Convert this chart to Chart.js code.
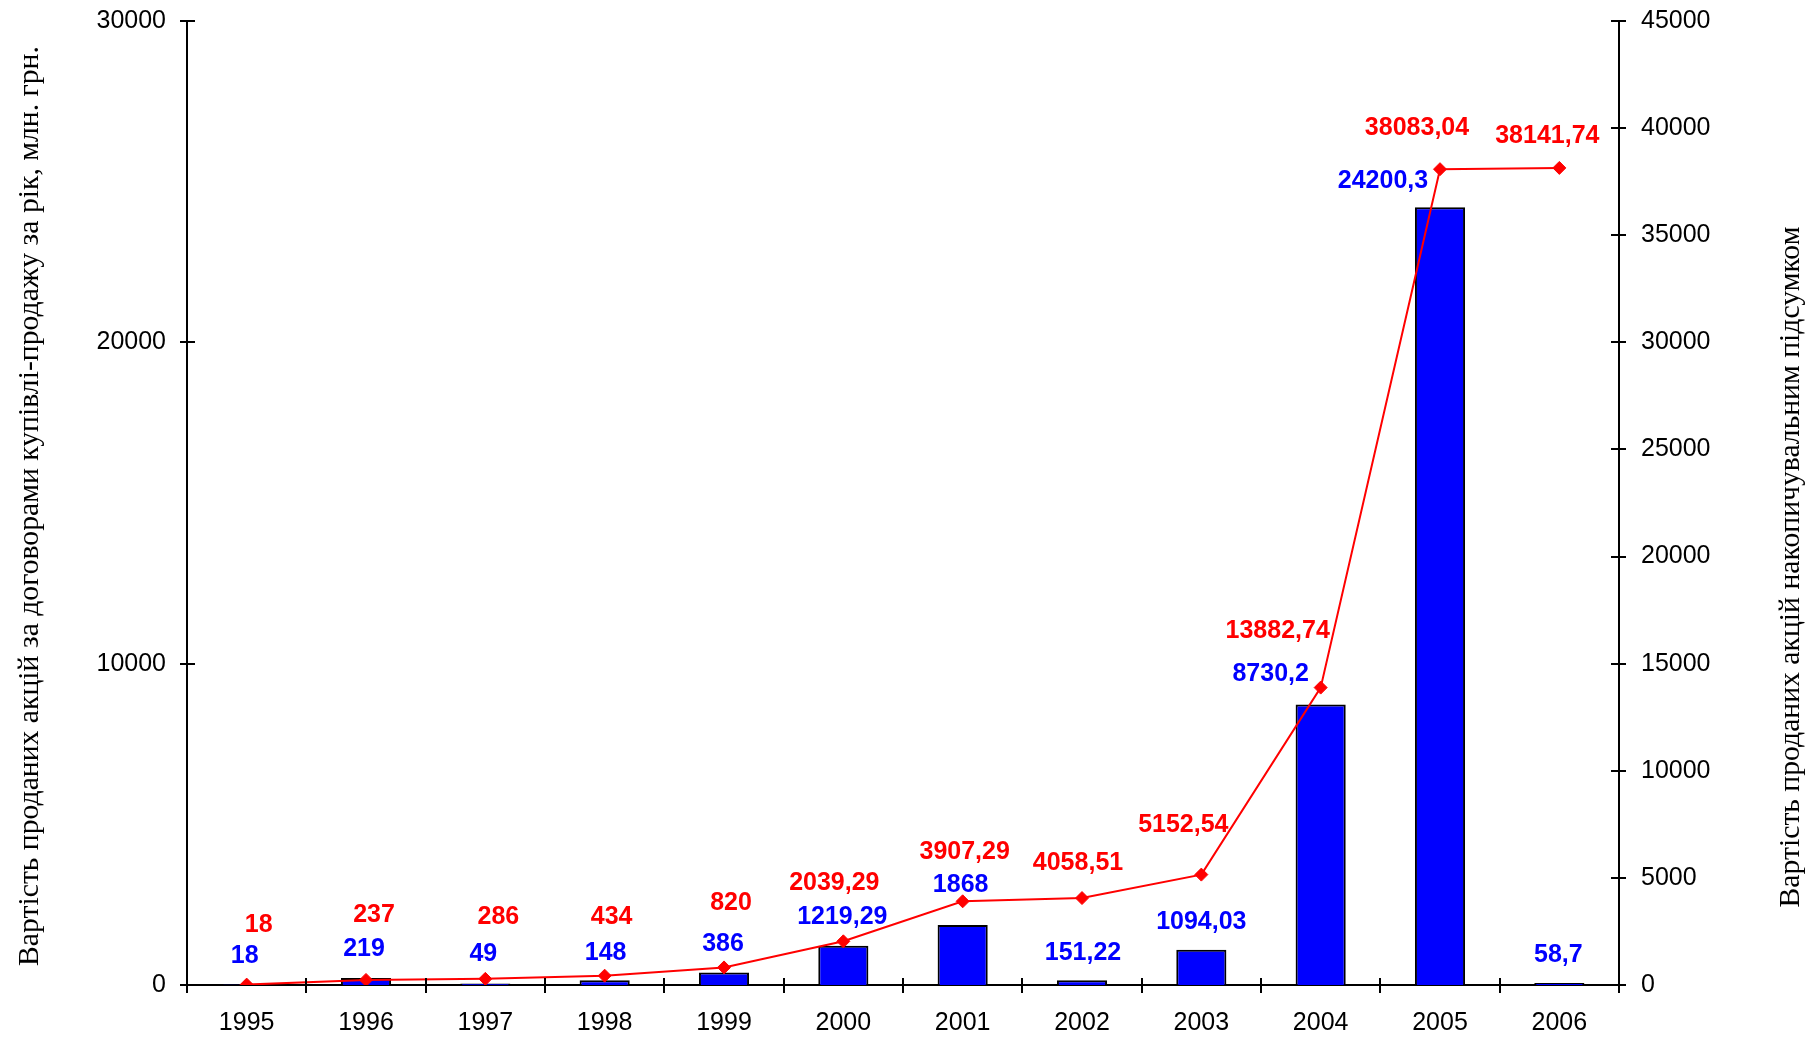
<!DOCTYPE html>
<html><head><meta charset="utf-8">
<script src="https://cdn.jsdelivr.net/npm/chart.js@4"></script>
<style>html,body{margin:0;padding:0;background:#fff;overflow:hidden}</style>
</head><body>
<canvas id="c" width="1819" height="1037"></canvas>
<script>
const years = ['1995','1996','1997','1998','1999','2000','2001','2002','2003','2004','2005','2006'];
const annualValues = [18, 219, 49, 148, 386, 1219.29, 1868, 151.22, 1094.03, 8730.2, 24200.3, 58.7];
const cumulativeValues = [18, 237, 286, 434, 820, 2039.29, 3907.29, 4058.51, 5152.54, 13882.74, 38083.04, 38141.74];
const leftTicks = [0, 10000, 20000, 30000];
const rightTicks = [0, 5000, 10000, 15000, 20000, 25000, 30000, 35000, 40000, 45000];
const leftTitle = 'Вартість проданих акцій за договорами купівлі-продажу за рік, млн. грн.';
const rightTitle = 'Вартість проданих акцій накопичувальним підсумком';

// label placement (px offsets from the anchored element)
const barLabelOffsets = [[-2,-28],[-2,-29],[-2,-29],[1,-27],[-1,-28],[-1,-29],[-2,-40],[1,-27],[0,-28],[-50,-30],[-57,-26],[-1,-28]];
const lineLabelOffsets = [[12,-60],[8,-65],[13,-62],[7,-59],[7,-64],[-9,-58],[2,-49],[-4,-35],[-18,-50],[-43,-56],[-23,-41],[-12,-32]];

const fmt = v => String(v).replace('.', ',');

const extras = {
  id: 'extras',
  afterDraw(chart) {
    const ctx = chart.ctx;
    const x = chart.scales.x, y = chart.scales.y, y2 = chart.scales.y2;
    ctx.save();
    ctx.strokeStyle = '#000';
    ctx.lineWidth = 2;
    ctx.beginPath();
    leftTicks.forEach(v => { const p = Math.round(y.getPixelForValue(v)); ctx.moveTo(y.right - 7, p); ctx.lineTo(y.right + 8, p); });
    rightTicks.forEach(v => { const p = Math.round(y2.getPixelForValue(v)); ctx.moveTo(y2.left - 8, p); ctx.lineTo(y2.left + 7, p); });
    const w = (x.right - x.left) / years.length;
    for (let i = 0; i <= years.length; i++) {
      const p = Math.round(x.left + i * w);
      ctx.moveTo(p, x.top - 7); ctx.lineTo(p, x.top + 8);
    }
    ctx.stroke();

    // data labels
    ctx.font = 'bold 25px "Liberation Sans", Arial, sans-serif';
    ctx.textAlign = 'center';
    ctx.textBaseline = 'middle';
    ctx.fillStyle = '#0000FF';
    annualValues.forEach((v, i) => {
      const px = x.getPixelForValue(i) + barLabelOffsets[i][0];
      const py = y.getPixelForValue(v) + barLabelOffsets[i][1];
      ctx.fillText(fmt(v), px, py);
    });
    ctx.fillStyle = '#FF0000';
    cumulativeValues.forEach((v, i) => {
      const px = x.getPixelForValue(i) + lineLabelOffsets[i][0];
      const py = y2.getPixelForValue(v) + lineLabelOffsets[i][1];
      ctx.fillText(fmt(v), px, py);
    });

    // axis titles
    ctx.fillStyle = '#000';
    ctx.font = '29.7px "Liberation Serif", "Times New Roman", serif';
    ctx.textBaseline = 'alphabetic';
    ctx.textAlign = 'center';
    ctx.save();
    ctx.translate(38, 506);
    ctx.rotate(-Math.PI / 2);
    ctx.fillText(leftTitle, 0, 0);
    ctx.restore();
    ctx.save();
    ctx.translate(1799, 567);
    ctx.rotate(-Math.PI / 2);
    ctx.fillText(rightTitle, 0, 0);
    ctx.restore();
    ctx.restore();
  }
};

const tickFont = { family: '"Liberation Sans", Arial, sans-serif', size: 25 };
const noPad = s => { s.paddingTop = 0; s.paddingBottom = 0; s.paddingLeft = 0; s.paddingRight = 0; };

new Chart(document.getElementById('c'), {
  data: {
    labels: years,
    datasets: [
      {
        type: 'line',
        data: cumulativeValues,
        yAxisID: 'y2',
        borderColor: '#FF0000',
        backgroundColor: '#FF0000',
        borderWidth: 2,
        tension: 0,
        pointStyle: 'rectRot',
        pointRadius: 6.5,
        pointBorderWidth: 1,
        pointBorderColor: '#FF0000',
        pointBackgroundColor: '#FF0000',
        order: 1
      },
      {
        type: 'bar',
        data: annualValues,
        yAxisID: 'y',
        backgroundColor: '#0000FF',
        borderColor: '#000000',
        borderWidth: 2,
        barPercentage: 0.42,
        categoryPercentage: 1,
        order: 2
      }
    ]
  },
  options: {
    responsive: false,
    animation: false,
    devicePixelRatio: 1,
    layout: { padding: { top: 21, left: 0, right: 0, bottom: 0 } },
    plugins: { legend: { display: false }, tooltip: { enabled: false } },
    scales: {
      x: {
        type: 'category',
        offset: true,
        grid: { display: false, drawTicks: false },
        border: { display: true, color: '#000', width: 2 },
        ticks: { color: '#000', font: tickFont, padding: 23, maxRotation: 0, autoSkip: false },
        afterFit: s => { s.height = 52; noPad(s); }
      },
      y: {
        position: 'left',
        min: 0, max: 30000,
        grid: { display: false, drawTicks: false },
        border: { display: true, color: '#000', width: 2 },
        ticks: { color: '#000', font: tickFont, padding: 21, callback: v => String(v) },
        afterBuildTicks: s => { s.ticks = leftTicks.map(v => ({ value: v })); },
        afterFit: s => { s.width = 187; noPad(s); }
      },
      y2: {
        position: 'right',
        min: 0, max: 45000,
        grid: { display: false, drawTicks: false },
        border: { display: true, color: '#000', width: 2 },
        ticks: { color: '#000', font: tickFont, padding: 22, callback: v => String(v) },
        afterBuildTicks: s => { s.ticks = rightTicks.map(v => ({ value: v })); },
        afterFit: s => { s.width = 200; noPad(s); }
      }
    }
  },
  plugins: [extras]
});
</script>
</body></html>
